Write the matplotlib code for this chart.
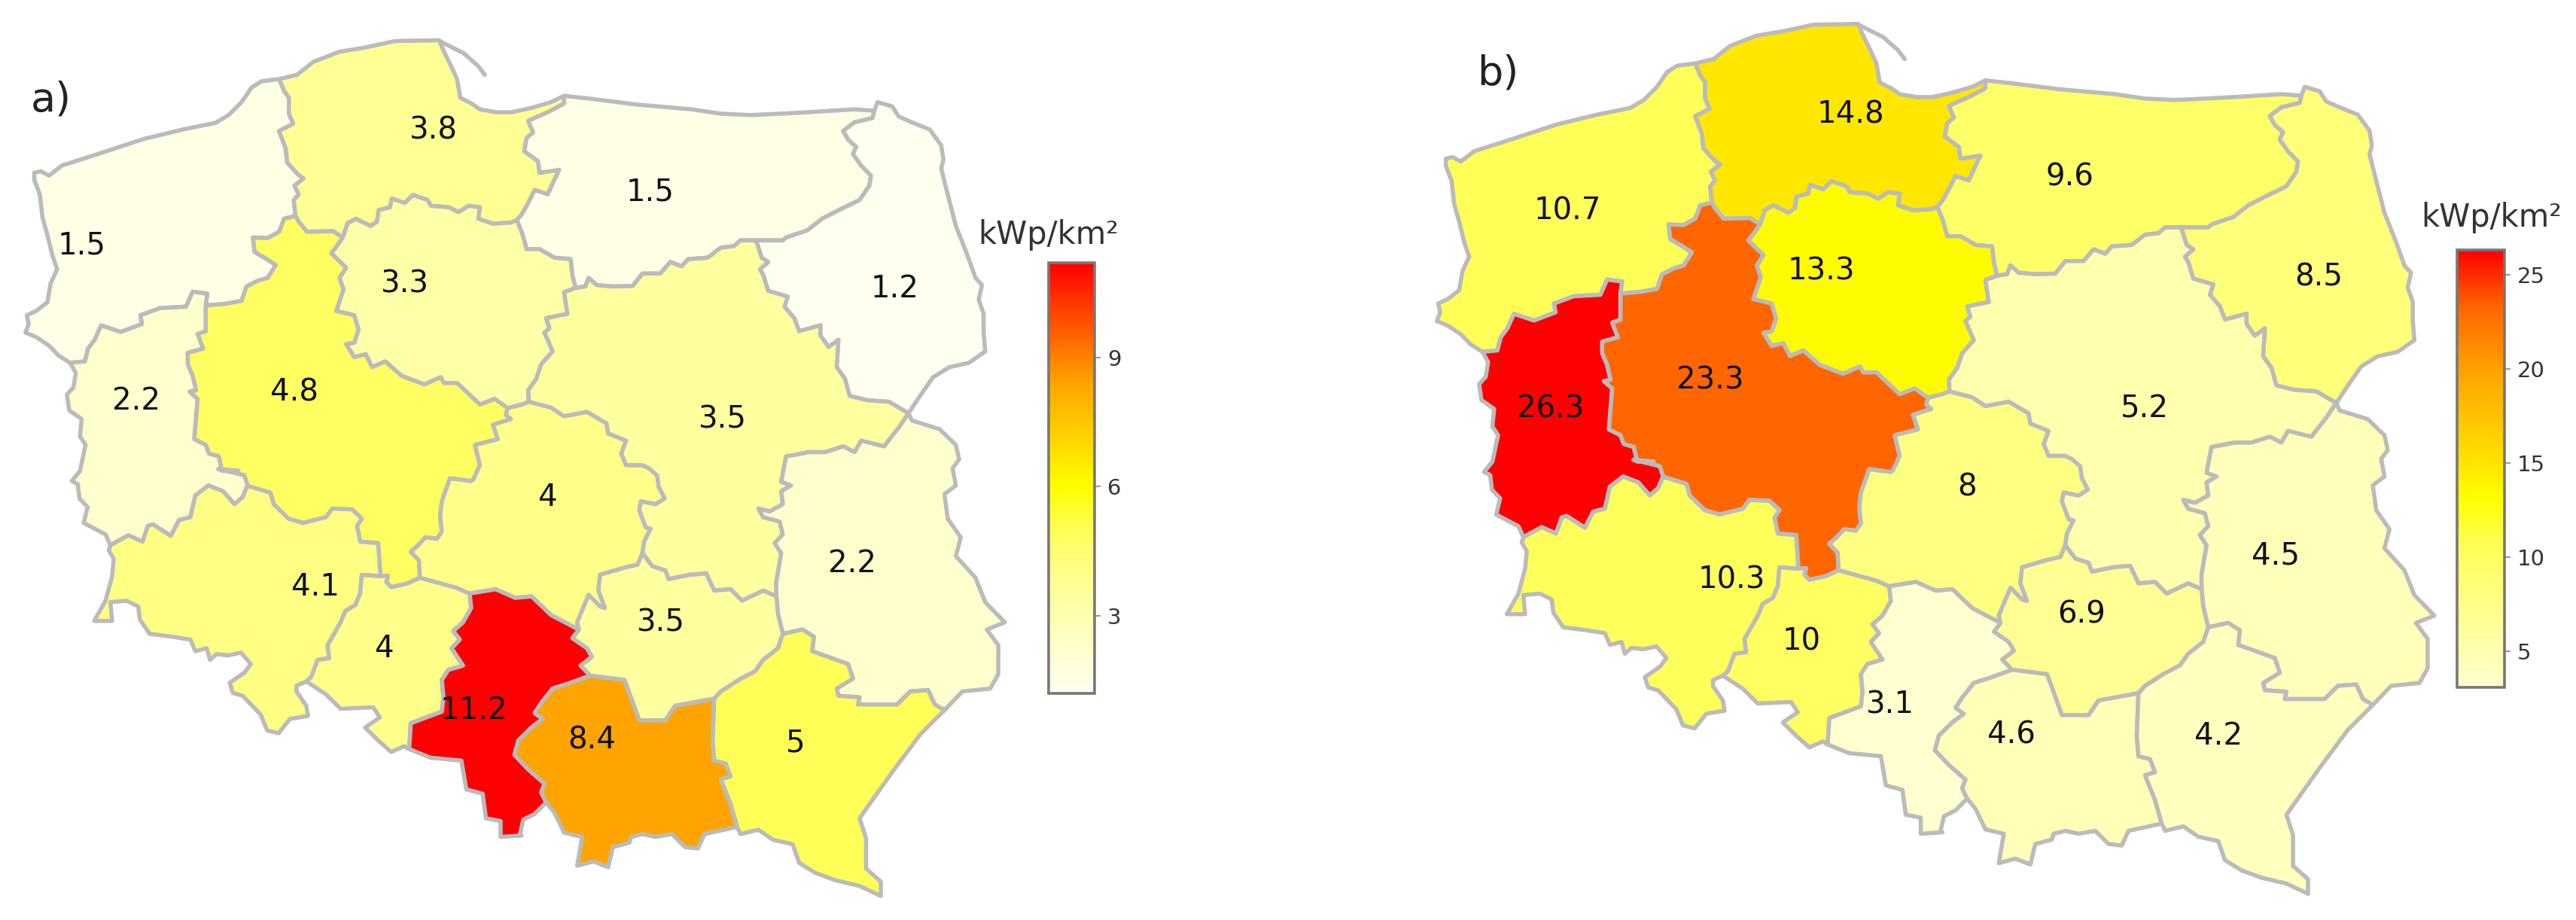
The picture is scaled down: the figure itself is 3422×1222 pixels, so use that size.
import matplotlib
matplotlib.use("Agg")
import matplotlib.pyplot as plt
from matplotlib.colors import LinearSegmentedColormap, Normalize
from matplotlib.cm import ScalarMappable

W, H = 3422, 1222

regions = ["Zachodniopomorskie", "Pomorskie", "Warminsko-Mazurskie", "Podlaskie",
           "Kujawsko-Pomorskie", "Wielkopolskie", "Lubuskie", "Dolnoslaskie", "Opolskie",
           "Lodzkie", "Mazowieckie", "Lubelskie", "Swietokrzyskie", "Slaskie",
           "Malopolskie", "Podkarpackie"]
values_a = [1.5, 3.8, 1.5, 1.2, 3.3, 4.8, 2.2, 4.1, 4, 4, 3.5, 2.2, 3.5, 11.2, 8.4, 5]
values_b = [10.7, 14.8, 9.6, 8.5, 13.3, 23.3, 26.3, 10.3, 10, 8, 5.2, 4.5, 6.9, 3.1, 4.6, 4.2]
labels_a = ["1.5", "3.8", "1.5", "1.2", "3.3", "4.8", "2.2", "4.1", "4", "4", "3.5", "2.2", "3.5", "11.2", "8.4", "5"]
labels_b = ["10.7", "14.8", "9.6", "8.5", "13.3", "23.3", "26.3", "10.3", "10", "8", "5.2", "4.5", "6.9", "3.1", "4.6", "4.2"]
label_pos_a = [(99,418),(527,222),(790,327),(1087,492),(492,484),(358,668),(166,683),(383,1000),(467,1105),
               (666,847),(878,715),(1035,960),(803,1060),(576,1210),(719,1260),(967,1265)]
label_pos_b = [(340,360),(684,195),(950,302),(1252,472),(648,462),(513,648),(319,697),(539,988),(624,1092),
               (825,830),(1041,697),(1200,946),(964,1046),(732,1200),(879,1252),(1131,1254)]
ticks_a = [3, 6, 9]
ticks_b = [5, 10, 15, 20, 25]
stops_a = [(0, "#FFFFF0"), (.25, "#FFFF98"), (.38, "#FFFF58"), (.48, "#FFFF00"), (.72, "#FFA500"), (1, "#FF0000")]
stops_b = [(0, "#FFFFD0"), (.10, "#FFFFAA"), (.33, "#FFFF55"), (.43, "#FFFF00"), (.73, "#FFA000"), (.87, "#FF6600"), (1, "#FF0000")]

FX, FY = 1568/680, 1568/600
def tile(x0, y0):
    return lambda pts: [(x / FX + x0, y / FY + y0) for x, y in pts]
q1, q2, q3, q4 = tile(0, 40), tile(680, 40), tile(60, 620), tile(680, 620)

# region border geometry
out_zach = q1([(215,1155),(180,1130),(150,1095),(110,1065),(78,1050),(88,1020),(82,990),(110,975),(145,945),(155,880),(175,830),(160,780),(145,710),(130,650),(122,570),(105,520),(105,495),(125,490),(150,505),(190,470),(300,430),(440,378),(560,345),(660,322),(700,295),(740,250),(770,200),(800,178),(855,170)])
zach_pom = q1([(855,170),(870,210),(885,235),(885,290),(898,325),(855,350),(875,410),(880,460),(912,500),(930,515),(902,540),(915,570),(900,590),(905,645)])
zach_wiel = q1([(905,645),(870,655),(855,700),(820,722),(775,720),(780,770),(810,790),(845,815),(820,860),(790,870),(755,890),(740,940),(690,950),(640,955),(630,955)])
lub_zach = q1([(630,955),(635,915),(590,908),(570,960),(490,965),(430,990),(435,1020),(370,1048),(310,1025),(290,1075),(270,1105),(260,1150),(215,1155)])
lub_wiel = q1([(630,955),(630,1045),(605,1055),(622,1105),(575,1120),(575,1160),(590,1200),(600,1250),(580,1255),(605,1280),(595,1420),(630,1440),(640,1470),(670,1480),(680,1530),(730,1530)]) + q3([(530,8),(575,20),(610,30),(620,65)])
lub_dol = q3([(620,65),(605,105),(580,130),(545,85),(500,65),(460,100),(445,175),(410,185),(385,240),(330,200),(315,205),(298,260),(255,238),(200,272)])
out_lub = q1([(215,1155),(232,1190),(225,1240),(205,1265),(212,1320),(250,1350),(245,1410),(262,1440),(245,1530),(220,1565)]) + q3([(100,60),(105,110),(130,140),(118,195),(185,235),(200,272)])
out_dol = q3([(200,272),(195,290),(210,320),(205,380),(185,465),(150,535),(205,535),(200,470),(250,465),(285,485),(290,530),(320,580),(390,590),(445,600),(460,640),(495,630),(505,670),(525,650),(560,655),(600,645),(630,685),(610,715),(565,750),(575,785),(605,795),(660,860),(680,915),(715,925),(750,875),(805,865),(800,830),(770,780),(770,760),(800,745)])
dol_opo = q3([(1027,380),(970,375),(965,440),(950,480),(920,500),(905,540),(880,590),(865,620),(870,665),(835,670),(815,730),(800,745)])
wiel_dol = q3([(1027,380),(1020,265),(965,260),(955,205),(970,180),(940,148),(880,145),(860,175),(790,195),(745,180),(700,130),(690,90),(625,68),(620,65)])
wiel_opo = q3([(1148,385),(1110,405),(1060,418),(1045,400),(1050,378),(1027,380)])
wiel_lod = q1([(1555,1312),(1550,1335),(1565,1350),(1510,1370),(1525,1420),(1455,1440),(1470,1510),(1450,1560)]) + q3([(1305,50),(1240,40),(1215,120),(1210,170),(1215,225),(1200,250),(1165,245),(1140,275),(1120,295),(1145,325),(1148,385)])
kuj_wiel = q1([(1050,720),(1015,775),(1060,825),(1040,860),(1052,900),(1030,975),(1085,990),(1098,1040),(1085,1085),(1060,1090),(1085,1135),(1120,1125),(1140,1170),(1180,1150),(1230,1200),(1300,1230),(1350,1205),(1360,1225),(1400,1225),(1470,1300),(1515,1280),(1555,1312)])
pom_wiel = q1([(1050,720),(1020,698),(940,700),(915,665),(905,645)])
pom_kuj = q2([(15,660)]) + q1([(1565,668),(1510,672),(1465,655),(1470,615),(1435,610),(1405,632),(1375,615),(1320,610),(1310,590),(1265,572),(1240,600),(1200,585),(1195,615),(1160,625),(1155,665),(1135,680),(1090,655),(1065,670),(1050,720)])
out_pom = q1([(855,170),(910,155),(960,110),(1040,75),(1120,60),(1210,38),(1345,35),(1360,75),(1380,120),(1400,170),(1410,235),(1445,255),(1470,275),(1520,285)]) + q2([(0,285),(60,270),(120,250),(160,228)])
hel = q1([(1350,40),(1420,80),(1465,125),(1485,155)])
pom_warm = q2([(160,228),(160,255),(110,285),(50,315),(65,355),(45,375),(38,420),(80,455),(85,495),(145,485),(130,520),(110,570),(70,555),(50,600),(30,640),(15,660)])
out_warm = q2([(160,228),(240,238),(380,258),(550,275),(640,290),(730,295),(860,288),(1050,275),(1110,280)])
warm_pod = q2([(1110,280),(1105,305),(1050,320),(1015,350),(1030,380),(1055,405),(1045,430),(1070,470),(1100,505),(1095,540),(1065,590),(1010,620),(950,655),(905,695),(840,720),(830,730),(748,730)])
warm_maz = q2([(748,730),(700,730),(680,750),(640,755),(600,790),(540,795),(520,820),(485,805),(455,845),(400,845),(370,888),(310,890),(260,885),(235,860),(225,890),(195,895)])
warm_kuj = q2([(195,895),(185,850),(180,795),(130,790),(85,760),(45,760),(30,700),(15,660)])
out_pod = q2([(1110,280),(1120,250),(1165,265),(1185,300),(1225,320),(1280,345),(1315,400),(1322,450),(1315,480),(1335,570),(1360,680),(1395,780),(1420,860),(1440,885),(1430,935),(1445,985),(1445,1050),(1450,1115),(1400,1155),(1340,1170),(1290,1205),(1250,1270),(1215,1330)])
maz_pod = q2([(1215,1330),(1155,1290),(1090,1285),(1035,1270),(1020,1210),(995,1170),(1000,1075),(970,1100),(945,1060),(945,1025),(880,1045),(865,1000),(835,960),(845,925),(785,905),(770,850),(760,830),(785,805),(765,790),(748,730)])
kuj_maz = q2([(195,895),(160,910),(170,985),(105,1000),(115,1035),(100,1050),(125,1115),(90,1160),(75,1210),(50,1250),(52,1290)])
kuj_lod = q1([(1555,1312)]) + q2([(30,1300),(52,1290)])
lod_maz = q2([(52,1290),(120,1310),(160,1340),(230,1325),(290,1365),(295,1400),(350,1425),(335,1470),(350,1510),(400,1510)]) + q4([(420,5),(445,30),(450,70),(468,110),(440,130),(395,120),(390,150),(410,210),(425,215),(405,260),(400,300)])
lod_swi = q4([(400,300),(385,340),(345,350),(270,375),(265,430),(285,490),(270,485),(235,445),(200,540),(205,565)])
opo_lod = q3([(1148,385),(1260,420),(1300,440)])
lod_sla = q3([(1300,440),(1380,425),(1440,455),(1490,450),(1550,515)]) + q4([(205,565)])
sla_swi = q4([(205,565),(185,595),(230,630),(245,660),(210,690),(240,725)])
sla_mal = q4([(240,725),(180,750),(125,770),(90,820),(70,855),(95,875),(60,905),(20,950),(8,1000),(50,1050),(100,1100),(90,1130),(105,1165)])
out_sla = q4([(105,1165),(70,1205),(35,1225),(25,1275)]) + q3([(1460,1280),(1395,1285),(1395,1230),(1350,1220),(1340,1135),(1290,1120),(1275,1020),(1180,1010),(1115,980)])
opo_sla = q3([(1300,440),(1305,490),(1280,540),(1250,570),(1270,600),(1245,630),(1280,690),(1235,705),(1215,740),(1220,800),(1215,850),(1120,890),(1115,980)])
out_opo = q3([(800,745),(860,790),(905,840),(1005,835),(1025,870),(980,905),(1020,950),(1060,990),(1100,970),(1115,980)])
maz_swi = q4([(400,300),(430,345),(470,360),(480,390),(545,375),(595,370),(620,430),(670,425),(705,465),(770,430),(810,450)])
maz_lub = q2([(1215,1330),(1185,1380),(1140,1445),(1070,1425),(1050,1465),(1015,1445),(960,1465),(910,1465),(840,1480)]) + q4([(825,52),(855,65),(825,85),(830,130),(790,155),(755,145),(770,175),(820,190),(830,235),(805,265),(825,300),(810,400),(810,450)])
lub_swi = q4([(810,450),(815,510),(830,580)])
lub_podk = q4([(830,580),(890,565),(925,590),(920,640),(1030,685),(1045,735),(995,770),(1000,795),(1065,800),(1060,825),(1180,825),(1220,780),(1275,775),(1295,825),(1325,845)])
out_lubl = q2([(1215,1330),(1225,1355),(1310,1385),(1360,1440),(1370,1490)]) + q4([(1350,5),(1360,65),(1325,95),(1335,180),(1375,245),(1360,310),(1420,385),(1450,470),(1510,540),(1455,565),(1490,620),(1490,720),(1465,770),(1380,780),(1325,845)])
swi_podk = q4([(830,580),(815,630),(770,670),(745,710),(695,740),(640,780),(620,805)])
swi_mal = q4([(240,725),(345,740),(390,880),(470,880),(500,830),(620,805)])
mal_podk = q4([(620,805),(615,950),(620,1020),(655,1030),(670,1075),(640,1085),(670,1170),(690,1250)])
out_podk = q4([(1325,845),(1250,930),(1165,1060),(1065,1220),(1085,1290),(1085,1395),(1130,1440),(1130,1490),(1065,1455),(990,1435),(930,1410),(880,1375),(860,1310),(800,1295),(755,1260),(700,1275),(690,1250)])
out_mal = q4([(690,1250),(630,1265),(590,1275),(570,1325),(530,1320),(490,1275),(440,1285),(400,1275),(365,1285),(360,1305),(310,1320),(295,1390),(250,1370),(200,1385),(215,1285),(160,1270),(130,1200),(105,1165)])

def r(p):
    return p[::-1]

rings = [
    out_zach + zach_pom + zach_wiel + lub_zach,
    out_pom + pom_warm + pom_kuj + pom_wiel + r(zach_pom),
    out_warm + warm_pod + warm_maz + warm_kuj + r(pom_warm),
    out_pod + maz_pod + r(warm_pod),
    r(pom_kuj) + r(warm_kuj) + kuj_maz + r(kuj_lod) + r(kuj_wiel),
    r(pom_wiel) + kuj_wiel + wiel_lod + wiel_opo + wiel_dol + r(lub_wiel) + r(zach_wiel),
    r(lub_zach) + lub_wiel + lub_dol + r(out_lub),
    r(lub_dol) + r(wiel_dol) + dol_opo + r(out_dol),
    r(wiel_opo) + opo_lod + opo_sla + r(out_opo) + r(dol_opo),
    lod_maz + lod_swi + r(lod_sla) + r(opo_lod) + r(wiel_lod) + kuj_lod,
    r(warm_maz) + r(maz_pod) + maz_lub + r(maz_swi) + r(lod_maz) + r(kuj_maz),
    r(maz_lub) + out_lubl + r(lub_podk) + r(lub_swi),
    maz_swi + lub_swi + swi_podk + r(swi_mal) + r(sla_swi) + r(lod_swi),
    lod_sla + sla_swi + sla_mal + out_sla + r(opo_sla),
    swi_mal + mal_podk + out_mal + r(sla_mal),
    lub_podk + out_podk + r(mal_podk) + r(swi_podk),
]

BORDER = "#BBBBBB"
LW = 4.0
fig = plt.figure(figsize=(W/100, H/100), dpi=100, facecolor="white")
plt.rcParams["font.family"] = "DejaVu Sans"

def panel(xlim, ylim, x_off, values, labels, label_pos, stops, ticks, name, name_xy, cb_px, title_xy):
    ax = fig.add_axes([0, 0, 1, 1], facecolor="none")
    ax.set_xlim(*xlim); ax.set_ylim(*ylim); ax.axis("off")
    cmap = LinearSegmentedColormap.from_list("c", stops)
    norm = Normalize(min(values), max(values))
    for ring, v in zip(rings, values):
        xs, ys = zip(*ring)
        ax.fill(xs, ys, facecolor=cmap(norm(v)), edgecolor=BORDER, linewidth=LW, joinstyle="round")
    hx, hy = zip(*hel)
    ax.plot(hx, hy, color=BORDER, lw=LW, solid_capstyle="round")
    for t, (x, y) in zip(labels, label_pos):
        fig.text((x/0.9147 + x_off)/W, 1 - (y/1.2816)/H, t, ha="center", va="center", fontsize=29, color="#111111")
    fig.text((name_xy[0]/0.9147 + x_off)/W, 1 - (name_xy[1]/1.2816)/H, name, ha="center", va="center", fontsize=39, color="#222222")
    x0, y0, x1, y1 = cb_px
    cax = fig.add_axes([x0/W, 1-y1/H, (x1-x0)/W, (y1-y0)/H])
    cb = fig.colorbar(ScalarMappable(norm, cmap), cax=cax, ticks=ticks)
    cb.outline.set_edgecolor("#777777"); cb.outline.set_linewidth(2.6)
    cb.ax.tick_params(length=6, width=1.5, color="#999999", labelsize=21, labelcolor="#333333", pad=6)
    fig.text(title_xy[0]/W, 1-title_xy[1]/H, "kWp/km²", ha="center", va="center", fontsize=30, color="#333333")

panel((0, W), (H, 0), 0, values_a, labels_a, label_pos_a, stops_a, ticks_a,
      "a)", (62, 170), (1393, 349, 1454, 921), (1393, 312))
panel((-1840.3, 1519.6), (1224.4, 22.2), 1711, values_b, labels_b, label_pos_b, stops_b, ticks_b,
      "b)", (255, 125), (3264, 332, 3327, 913), (3310, 289))
fig.savefig("out.png", dpi=100)
